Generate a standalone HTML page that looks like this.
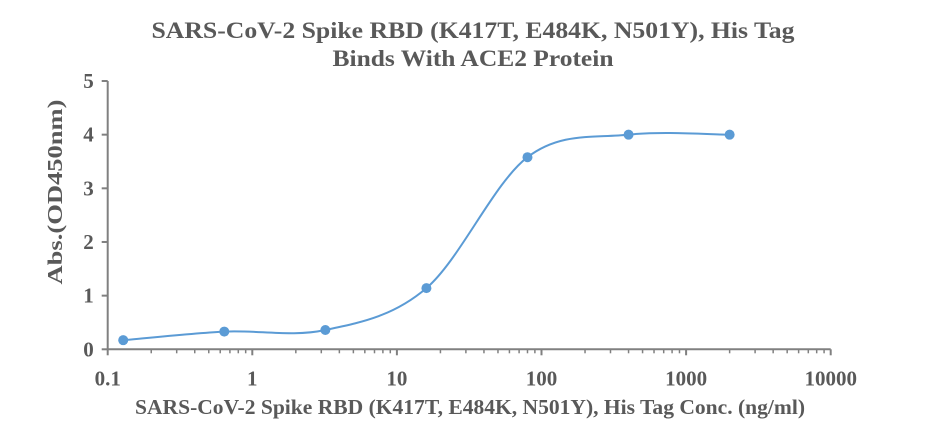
<!DOCTYPE html>
<html><head><meta charset="utf-8"><style>
body{margin:0;background:#fff;}
svg text{font-family:"Liberation Serif",serif;font-weight:bold;fill:#595959;}
</style></head><body>
<svg id="chart" width="936" height="436" viewBox="0 0 936 436" xmlns="http://www.w3.org/2000/svg">
<text x="473" y="38" text-anchor="middle" font-size="23" textLength="643" lengthAdjust="spacingAndGlyphs">SARS-CoV-2 Spike RBD (K417T, E484K, N501Y), His Tag</text>
<text x="473" y="66" text-anchor="middle" font-size="23" textLength="281" lengthAdjust="spacingAndGlyphs">Binds With ACE2 Protein</text>
<text transform="translate(62,192) rotate(-90)" text-anchor="middle" font-size="21" textLength="185" lengthAdjust="spacingAndGlyphs">Abs.(OD450nm)</text>
<text x="470" y="414" text-anchor="middle" font-size="21" textLength="670" lengthAdjust="spacingAndGlyphs">SARS-CoV-2 Spike RBD (K417T, E484K, N501Y), His Tag Conc. (ng/ml)</text>
<g id="axes"></g>
<g id="series"></g>
</svg>
<script>
const concentrations=[0.128,0.64,3.2,16,80,400,2000];
const absorbance=[0.17,0.33,0.36,1.14,3.58,4.0,4.0];
const yTicks=[0,1,2,3,4,5];
const xTickLabels=["0.1","1","10","100","1000","10000"];
const X0=107.7,DEC=144.6,Y0=349.3,UNIT=53.66;
function xs(v){return X0+(Math.log10(v)+1)*DEC;}
function ys(v){return Y0-v*UNIT;}
const NS="http://www.w3.org/2000/svg";
const ax=document.getElementById('axes'),se=document.getElementById('series');
function mk(tag,attrs,parent){const e=document.createElementNS(NS,tag);for(const k in attrs)e.setAttribute(k,attrs[k]);parent.appendChild(e);return e;}
const gray="#808080";
let l=mk('line',{x1:X0,y1:ys(5),x2:X0,y2:Y0,stroke:gray,'stroke-width':2},ax);


l=mk('line',{x1:X0,y1:Y0,x2:xs(10000),y2:Y0,stroke:gray,'stroke-width':2},ax);


yTicks.forEach(v=>{
  const t=mk('line',{x1:X0-6,y1:ys(v),x2:X0,y2:ys(v),stroke:gray,'stroke-width':2},ax);
  
  
  const tx=mk('text',{x:X0-14,y:ys(v)+7,'text-anchor':'end','font-size':21},ax);
  tx.textContent=v;
  
  
});
xTickLabels.forEach((lab,i)=>{
  const v=parseFloat(lab),x=xs(v);
  const t=mk('line',{x1:x,y1:Y0,x2:x,y2:Y0+6,stroke:gray,'stroke-width':2},ax);
  
  
  const tx=mk('text',{x:x,y:Y0+36,'text-anchor':'middle','font-size':21},ax);
  tx.textContent=lab;
  
  
  if(i<xTickLabels.length-1){for(let m=2;m<=9;m++){const mx=xs(v*m);
    const mt=mk('line',{x1:mx,y1:Y0,x2:mx,y2:Y0+4,stroke:gray,'stroke-width':1.5},ax);
    
    }}
});
const P=concentrations.map((c,i)=>[xs(c),ys(absorbance[i])]);
let d=`M${P[0][0]},${P[0][1]}`;
for(let i=0;i<P.length-1;i++){
  const p0=P[Math.max(i-1,0)],p1=P[i],p2=P[i+1],p3=P[Math.min(i+2,P.length-1)];
  const c1=[p1[0]+(p2[0]-p0[0])/6,p1[1]+(p2[1]-p0[1])/6];
  const c2=[p2[0]-(p3[0]-p1[0])/6,p2[1]-(p3[1]-p1[1])/6];
  d+=` C${c1[0]},${c1[1]} ${c2[0]},${c2[1]} ${p2[0]},${p2[1]}`;
}
const path=mk('path',{d:d,fill:'none',stroke:'#5b9bd5','stroke-width':2},se);


P.forEach(p=>{
  const c=mk('circle',{cx:p[0],cy:p[1],r:5,fill:'#5b9bd5'},se);
  
  
});
</script>
</body></html>
